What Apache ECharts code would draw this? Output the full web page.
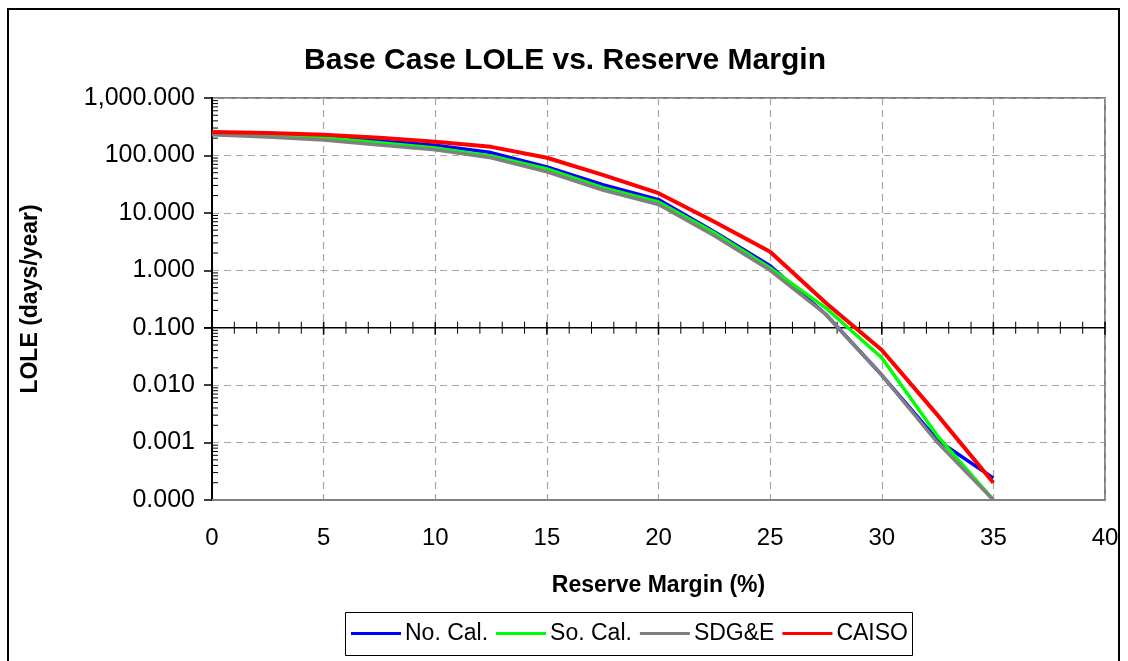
<!DOCTYPE html>
<html>
<head>
<meta charset="utf-8">
<title>Base Case LOLE vs. Reserve Margin</title>
<script src="https://cdn.jsdelivr.net/npm/echarts@6/dist/echarts.min.js"></script>
<style>
  html, body { margin: 0; padding: 0; background: #fff; }
  #chart { width: 1128px; height: 661px; }
</style>
</head>
<body>
<div id="chart"></div>
<script>
// Reserve margin (%) at which LOLE was evaluated
const reserveMargin = [0, 2.5, 5, 7.5, 10, 12.5, 15, 17.5, 20, 22.5, 25, 27.5, 30, 32.5, 35];

// LOLE (days/year) by region
const noCal  = [245, 229, 210, 178, 150, 112, 63, 31, 17, 4.7, 1.2, 0.17, 0.015, 0.0011, 0.00024];
const soCal  = [240, 219, 204, 166, 135, 98, 58, 27.5, 15.5, 4.5, 1.1, 0.22, 0.03, 0.0013, 0.0001];
const sdge   = [230, 209, 185, 152, 125, 91, 52, 25, 14, 4.0, 1.0, 0.17, 0.015, 0.001, 0.0001];
const caiso  = [257, 245, 229, 204, 173, 141, 91, 46, 22, 7.0, 2.1, 0.27, 0.041, 0.003, 0.0002];

const seriesNames  = ['No. Cal.', 'So. Cal.', 'SDG&E', 'CAISO'];
const seriesColors = ['#0000ff', '#00ff00', '#808080', '#ff0000'];
const seriesValues = [noCal, soCal, sdge, caiso];

// Axis ranges
const xMin = 0, xMax = 40, xStep = 5;
const yMin = 0.0001, yMax = 1000;
const xCrossValue = 0.1; // horizontal axis drawn across the plot at this LOLE

const FONT = 'Liberation Sans, Arial, sans-serif';

function fmtY(v) {
  return Number(v).toLocaleString('en-US', { minimumFractionDigits: 3, maximumFractionDigits: 3 });
}

// Minor tick values of the log axis (2..9 within each decade)
const minorYTicks = [];
for (let e = -4; e < 3; e++) {
  for (let m = 2; m <= 9; m++) minorYTicks.push(m * Math.pow(10, e));
}

const chart = echarts.init(document.getElementById('chart'), null, { renderer: 'canvas' });

const lineSeries = seriesNames.map((name, i) => ({
  name: name,
  type: 'line',
  data: reserveMargin.map((x, j) => [x, seriesValues[i][j]]),
  symbol: 'none',
  smooth: false,
  z: 3 + i,
  lineStyle: { color: seriesColors[i], width: i === 3 ? 4 : 3.5, join: 'round' },
  itemStyle: { color: seriesColors[i] }
}));

// Inner minor ticks on the log axis
const minorTickSeries = {
  type: 'custom',
  silent: true,
  z: 10,
  data: minorYTicks.map(v => [xMin, v]),
  renderItem: function (params, api) {
    const p = api.coord([api.value(0), api.value(1)]);
    return {
      type: 'line',
      shape: { x1: p[0], y1: p[1], x2: p[0] + 6, y2: p[1] },
      style: { stroke: '#000', lineWidth: 1 }
    };
  }
};

// Horizontal axis line crossing at LOLE = 0.1, with ticks every 1 %
const crossAxisSeries = {
  type: 'custom',
  silent: true,
  z: 2,
  data: [[xMin, xCrossValue]],
  renderItem: function (params, api) {
    const a = api.coord([xMin, xCrossValue]);
    const b = api.coord([xMax, xCrossValue]);
    const children = [{
      type: 'line',
      shape: { x1: a[0] - 8, y1: a[1], x2: b[0], y2: b[1] },
      style: { stroke: '#000', lineWidth: 1.5 }
    }];
    for (let x = xMin + 1; x <= xMax; x++) {
      const p = api.coord([x, xCrossValue]);
      const major = x % xStep === 0;
      children.push({
        type: 'line',
        shape: { x1: p[0], y1: p[1] - 6, x2: p[0], y2: p[1] + (major ? 7 : 6) },
        style: { stroke: '#000', lineWidth: major ? 1.5 : 1 }
      });
    }
    return { type: 'group', children: children };
  }
};

const option = {
  animation: false,
  backgroundColor: '#fff',
  title: {
    text: 'Base Case LOLE vs. Reserve Margin',
    left: 560,
    textAlign: 'center',
    top: 41,
    textStyle: { fontFamily: FONT, fontSize: 30, fontWeight: 'bold', color: '#000' }
  },
  grid: {
    left: 212, top: 98, right: 23, bottom: 161,
    show: true,
    borderColor: '#808080',
    borderWidth: 2,
    backgroundColor: 'transparent'
  },
  legend: {
    left: 351,
    top: 622,
    padding: 0,
    icon: 'rect',
    itemWidth: 50,
    itemHeight: 3,
    itemGap: 8,
    data: seriesNames,
    textStyle: { fontFamily: FONT, fontSize: 23, color: '#000', padding: [0, 0, 0, -1] }
  },
  xAxis: {
    type: 'value',
    min: xMin, max: xMax, interval: xStep,
    name: 'Reserve Margin (%)',
    nameLocation: 'middle',
    nameGap: 74,
    nameTextStyle: { fontFamily: FONT, fontSize: 23, fontWeight: 'bold', color: '#000' },
    axisLine: { show: true, lineStyle: { color: '#808080', width: 2 } },
    axisTick: { show: false },
    axisLabel: { fontFamily: FONT, fontSize: 24, color: '#000', margin: 26 },
    splitLine: { show: true, lineStyle: { color: '#a6a6a6', type: [7, 5], width: 1.2 } }
  },
  yAxis: {
    type: 'log',
    logBase: 10,
    min: yMin, max: yMax,
    splitNumber: 7,
    name: 'LOLE (days/year)',
    nameLocation: 'middle',
    nameGap: 170,
    nameTextStyle: { fontFamily: FONT, fontSize: 23, fontWeight: 'bold', color: '#000' },
    axisLine: { show: true, lineStyle: { color: '#000', width: 2 } },
    axisTick: { show: true, length: 8, lineStyle: { color: '#000', width: 1.5 } },
    axisLabel: { fontFamily: FONT, fontSize: 25, color: '#000', margin: 17, formatter: fmtY },
    splitLine: { show: true, lineStyle: { color: '#a6a6a6', type: [7, 5], width: 1.2 } }
  },
  graphic: [
    {
      type: 'rect',
      shape: { x: 8, y: 9, width: 1111, height: 680 },
      style: { fill: 'none', stroke: '#000', lineWidth: 2 },
      silent: true, z: 100
    },
    {
      type: 'rect',
      shape: { x: 345.5, y: 612.5, width: 567, height: 43 },
      style: { fill: 'none', stroke: '#000', lineWidth: 1 },
      silent: true, z: 100
    }
  ],
  series: [crossAxisSeries].concat(lineSeries).concat([minorTickSeries])
};

chart.setOption(option);
</script>
</body>
</html>
